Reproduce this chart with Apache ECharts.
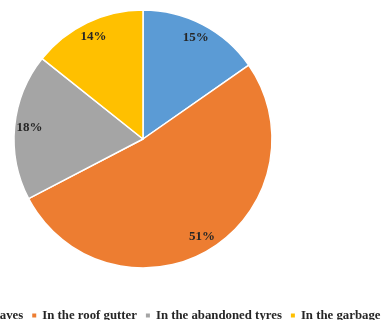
<!DOCTYPE html>
<html><head><meta charset="utf-8">
<script src="https://cdn.jsdelivr.net/npm/echarts@6/dist/echarts.min.js"></script>
<style>html,body{margin:0;padding:0;background:#fff}#c{width:384px;height:320px}</style>
</head><body><div id="c"></div>
<script>
const categories = ['In the leaves', 'In the roof gutter', 'In the abandoned tyres', 'In the garbage'];
const values = [15, 51, 18, 14];
const colors = ['#5B9BD5', '#ED7D31', '#A5A5A5', '#FFC000'];

const data = categories.map((n, i) => ({ name: n, value: values[i] }));
const chart = echarts.init(document.getElementById('c'), null, { renderer: 'canvas' });
const font = '"Liberation Serif", "Times New Roman", serif';
chart.setOption({
  animation: false,
  color: colors,
  legend: {
    data: categories,
    left: -62, top: 304, width: 520,
    orient: 'horizontal',
    icon: 'rect',
    itemWidth: 6, itemHeight: 6, itemGap: 7,
    textStyle: { fontFamily: font, fontWeight: 'bold', fontSize: 12.8, color: '#262626' }
  },
  series: [{
    type: 'pie',
    center: [143, 139],
    radius: [0, 129],
    startAngle: 90,
    clockwise: true,
    data: data,
    label: { show: false },
    labelLine: { show: false },
    itemStyle: { borderColor: '#fff', borderWidth: 1.5 },
    emphasis: { disabled: true }
  }, {
    type: 'pie',
    center: [143, 139],
    radius: [93, 129],
    startAngle: 90,
    clockwise: true,
    data: data,
    silent: true,
    itemStyle: { color: 'rgba(0,0,0,0)' },
    label: {
      show: true, position: 'inside',
      formatter: p => p.value + '%',
      fontFamily: font, fontWeight: 'bold', fontSize: 13, color: '#262626'
    },
    labelLine: { show: false },
    legendHoverLink: false,
    emphasis: { disabled: true }
  }]
});
</script></body></html>
